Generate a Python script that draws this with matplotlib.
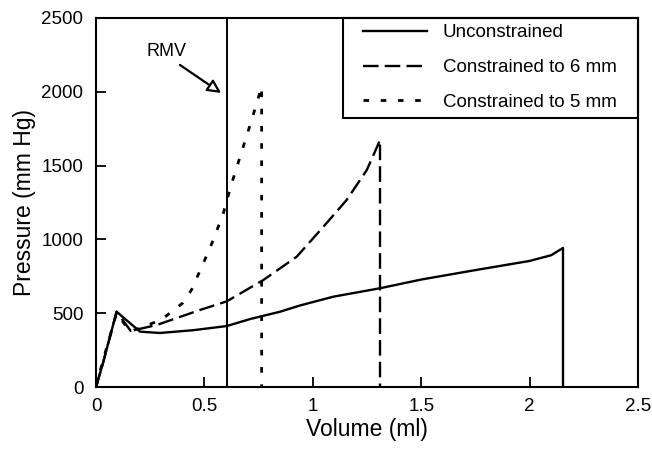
import matplotlib
matplotlib.use("Agg")
import matplotlib.pyplot as plt
from matplotlib.patches import Rectangle

plt.rcParams['font.family'] = ['Liberation Sans', 'DejaVu Sans']

# Unconstrained
unc_x = [0.0, 0.03, 0.095, 0.203, 0.295, 0.45, 0.603, 0.71, 0.849, 0.94, 1.095, 1.31, 1.5, 1.75, 2.0, 2.1, 2.154, 2.154]
unc_y = [0, 150, 510, 375, 366, 385, 413, 460, 510, 552, 612, 669, 728, 792, 854, 893, 942, 0]

# Constrained to 6 mm
c6_x = [0.0, 0.03, 0.095, 0.16, 0.28, 0.48, 0.603, 0.772, 0.926, 1.049, 1.156, 1.249, 1.28, 1.31, 1.31]
c6_y = [0, 150, 510, 380, 420, 522, 580, 725, 883, 1086, 1267, 1470, 1572, 1673, 0]

# Constrained to 5 mm
c5_x = [0.0, 0.03, 0.095, 0.157, 0.30, 0.40, 0.44, 0.495, 0.541, 0.587, 0.626, 0.672, 0.718, 0.741, 0.764, 0.764]
c5_y = [0, 170, 500, 375, 454, 569, 657, 838, 996, 1177, 1380, 1594, 1809, 1922, 2035, 0]

rmv_x = 0.604
rmv_label_xy = (0.327, 2270)
rmv_arrow_start = (0.387, 2182)
rmv_arrow_tip = (0.577, 1992)

xticks = [0, 0.5, 1, 1.5, 2, 2.5]
xticklabels = ["0", "0.5", "1", "1.5", "2", "2.5"]
yticks = [0, 500, 1000, 1500, 2000, 2500]

fig = plt.figure(figsize=(6.52, 4.5), dpi=100)
ax = fig.add_axes([96/652, 63/450, (638-96)/652, (387-18)/450])

ax.plot(unc_x, unc_y, color='black', lw=1.7, linestyle='-', label='Unconstrained')
ax.plot(c6_x, c6_y, color='black', lw=1.7, linestyle=(0, (6.6, 2.6)), label='Constrained to 6 mm')
ax.plot(c5_x, c5_y, color='black', lw=2.0, linestyle=(0, (2, 4.2)), label='Constrained to 5 mm')

ax.axvline(rmv_x, color='black', lw=1.4)

ax.text(rmv_label_xy[0], rmv_label_xy[1], 'RMV', fontsize=13, ha='center', va='center')
ax.annotate('', xy=rmv_arrow_tip, xytext=rmv_arrow_start,
            arrowprops=dict(arrowstyle='-|>,head_length=0.8,head_width=0.4',
                            fc='white', ec='black', lw=1.6,
                            shrinkA=0, shrinkB=0))

ax.set_xlim(0, 2.5)
ax.set_ylim(0, 2500)
ax.set_xticks(xticks)
ax.set_xticklabels(xticklabels)
ax.set_yticks(yticks)
ax.tick_params(direction='in', length=7, width=1.3, labelsize=13.5, top=False, right=False)
ax.tick_params(axis='x', pad=8)
ax.tick_params(axis='y', pad=9)
for s in ax.spines.values():
    s.set_linewidth(1.5)

ax.set_xlabel('Volume (ml)', fontsize=16.5, labelpad=2)
ax.set_ylabel('Pressure (mm Hg)', fontsize=16.5, labelpad=4)

leg = ax.legend(loc='upper left', bbox_to_anchor=((363-96)/542, (387-24)/369),
                borderaxespad=0, borderpad=0,
                fontsize=13.5, handlelength=3.4, handletextpad=0.85,
                labelspacing=0.95, frameon=False)

box = Rectangle(((343-96)/542, (387-118)/369), (638-343)/542, (118-18)/369,
                transform=ax.transAxes, fill=False, ec='black', lw=1.5, zorder=5,
                clip_on=False)
ax.add_patch(box)

fig.savefig('out.png', dpi=100)
